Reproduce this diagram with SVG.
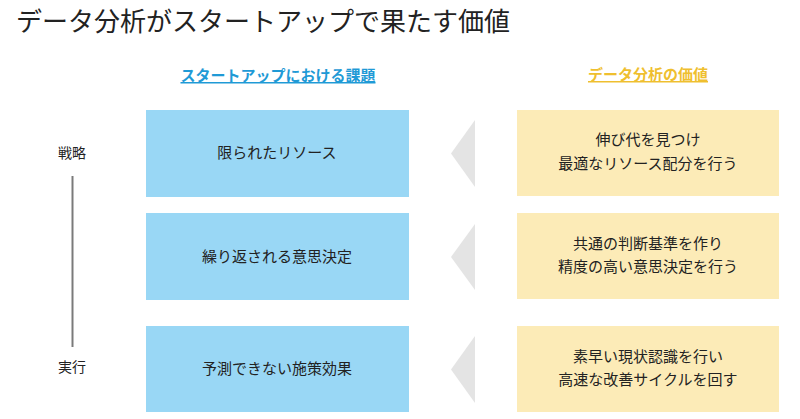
<svg xmlns="http://www.w3.org/2000/svg" width="800" height="419" viewBox="0 0 800 419">
<style>
text{font-family:"Noto Sans CJK JP","Noto Sans",sans-serif;fill:#222;}
.t{font-size:15px;text-anchor:middle;}
.h{font-size:15px;font-weight:bold;text-anchor:middle;text-decoration:underline;}
.blue{fill:#99d7f5;}
.yel{fill:#fcebb7;}
.tri{fill:#e4e4e4;}
</style>
<rect width="800" height="419" fill="#ffffff"/>
<text x="16" y="31" style="font-size:26px">データ分析がスタートアップで果たす価値</text>
<text x="278" y="81" class="h" style="fill:#1f9ad6">スタートアップにおける課題</text>
<text x="648" y="80" class="h" style="fill:#efbf2f">データ分析の価値</text>
<g id="axis">
<text x="72" y="158" class="t" style="font-size:14px">戦略</text>
<line x1="72.5" y1="176" x2="72.5" y2="347" stroke="#7a7a7a" stroke-width="2"/>
<text x="72" y="372" class="t" style="font-size:14px">実行</text>
</g>
<g id="c1"><rect class="blue" x="146" y="110" width="263" height="87"/><text x="277" y="158" class="t">限られたリソース</text></g>
<g id="c2"><rect class="blue" x="146" y="213" width="263" height="87"/><text x="277" y="262" class="t">繰り返される意思決定</text></g>
<g id="c3"><rect class="blue" x="146" y="326" width="263" height="86"/><text x="277" y="374" class="t">予測できない施策効果</text></g>
<g id="v1"><rect class="yel" x="517" y="110" width="262" height="86"/><text x="648" y="145" class="t">伸び代を見つけ</text><text x="648" y="169" class="t">最適なリソース配分を行う</text></g>
<g id="v2"><rect class="yel" x="517" y="213" width="262" height="86"/><text x="648" y="249" class="t">共通の判断基準を作り</text><text x="648" y="272" class="t">精度の高い意思決定を行う</text></g>
<g id="v3"><rect class="yel" x="517" y="326" width="262" height="86"/><text x="648" y="362" class="t">素早い現状認識を行い</text><text x="648" y="385" class="t">高速な改善サイクルを回す</text></g>
<g id="connectors">
<polygon class="tri" points="475,120 475,187 451,153.5"/>
<polygon class="tri" points="475,224 475,290 451,257"/>
<polygon class="tri" points="475,336 475,403 451,369.5"/>
</g>
</svg>
